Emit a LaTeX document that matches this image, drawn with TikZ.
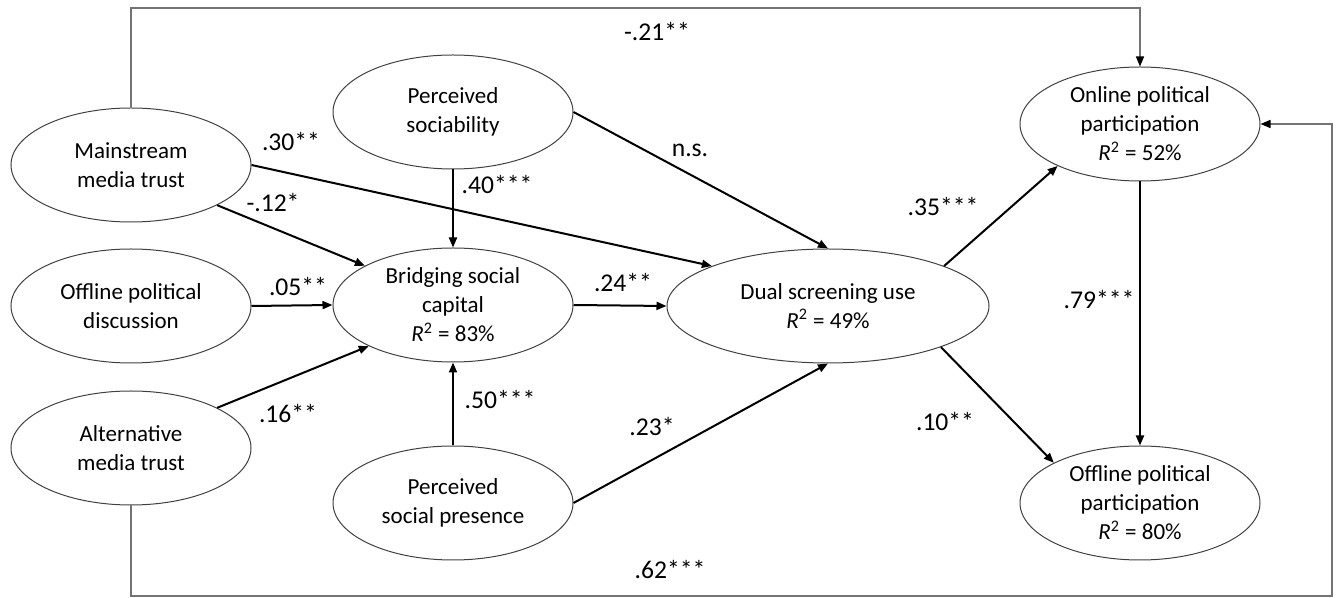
\documentclass[tikz,border=0pt]{standalone}
\usepackage{fontspec}
\setmainfont{Carlito}
\usetikzlibrary{shapes.geometric,arrows.meta}
\newcommand{\rsq}{\textit{R}\textsuperscript{2}}

\begin{document}
\begin{tikzpicture}[x=0.5pt,y=-0.5pt,
    construct/.style={ellipse,draw=black!75,line width=0.5pt,inner sep=0pt,
      minimum width=120pt,minimum height=57pt,align=center,
      font=\fontsize{11.5}{14.5}\selectfont},
    widebox/.style={minimum width=161pt},
    effect/.style={line width=1pt,-{Triangle[length=5pt,width=4pt]}},
    feedback/.style={draw=black!55,line width=0.75pt,-{Triangle[length=5pt,width=4pt,color=black]}},
    coef/.style={font=\fontsize{12.8}{15}\selectfont,inner sep=0pt}]
    \useasboundingbox (0,0) rectangle (1340,598);
    \node[construct] (mmt) at (131,165) {Mainstream\\media trust};
    \node[construct] (opd) at (131,306) {Offline political\\discussion};
    \node[construct] (amt) at (131,448) {Alternative\\media trust};
    \node[construct] (sociab) at (453,112) {Perceived\\sociability};
    \node[construct] (bsc) at (453,305) {Bridging social\\capital\\\rsq{} = 83\%};
    \node[construct] (presence) at (453,503) {Perceived\\social presence};
    \node[construct,widebox] (dsu) at (828,306) {Dual screening use\\\rsq{} = 49\%};
    \node[construct] (onpp) at (1140,124) {Online political\\participation\\\rsq{} = 52\%};
    \node[construct] (offpp) at (1140,503) {Offline political\\participation\\\rsq{} = 80\%};
    \coordinate (toprail) at (0,8);
    \coordinate (rightrail) at (1332,596);
    % paths between constructs
    \draw[effect] (mmt.-25) -- (bsc.156);
    \draw[effect] (mmt.east) -- (dsu.161);
    \draw[effect] (sociab.south) -- (bsc.north);
    \draw[effect] (sociab.east) -- (dsu.north);
    \draw[effect] (opd.east) -- (bsc.west);
    \draw[effect] (amt.25) -- (bsc.206);
    \draw[effect] (presence.north) -- (bsc.south);
    \draw[effect] (presence.east) -- (dsu.south);
    \draw[effect] (bsc.east) -- (dsu.west);
    \draw[effect] (dsu.19) -- (onpp.207);
    \draw[effect] (dsu.-20) -- (offpp.155);
    \draw[effect] (onpp.south) -- (offpp.north);
    % direct paths round the outside
    \draw[feedback] (mmt.north) -- (mmt.north |- toprail) -| (onpp.north);
    \draw[feedback] (amt.south) -- (amt.south |- rightrail) -| (rightrail |- onpp.east) -- (onpp.east);
    % coefficients
    \node[coef] (c-mmt-dsu) at (291,142) {.30**};
    \node[coef] (c-mmt-bsc) at (273,203) {-.12*};
    \node[coef] (c-soc-bsc) at (497,185) {.40***};
    \node[coef] (c-soc-dsu) at (690,150) {n.s.};
    \node[coef] (c-opd-bsc) at (298,287) {.05**};
    \node[coef] (c-bsc-dsu) at (623,283) {.24**};
    \node[coef] (c-amt-bsc) at (288,414) {.16**};
    \node[coef] (c-pre-bsc) at (500,400) {.50***};
    \node[coef] (c-pre-dsu) at (652,427) {.23*};
    \node[coef] (c-dsu-on) at (943,207) {.35***};
    \node[coef] (c-on-off) at (1099,300) {.79***};
    \node[coef] (c-dsu-off) at (945,422) {.10**};
    \node[coef] (c-mmt-on) at (657,32) {-.21**};
    \node[coef] (c-amt-on) at (670,570) {.62***};
\end{tikzpicture}
\end{document}
